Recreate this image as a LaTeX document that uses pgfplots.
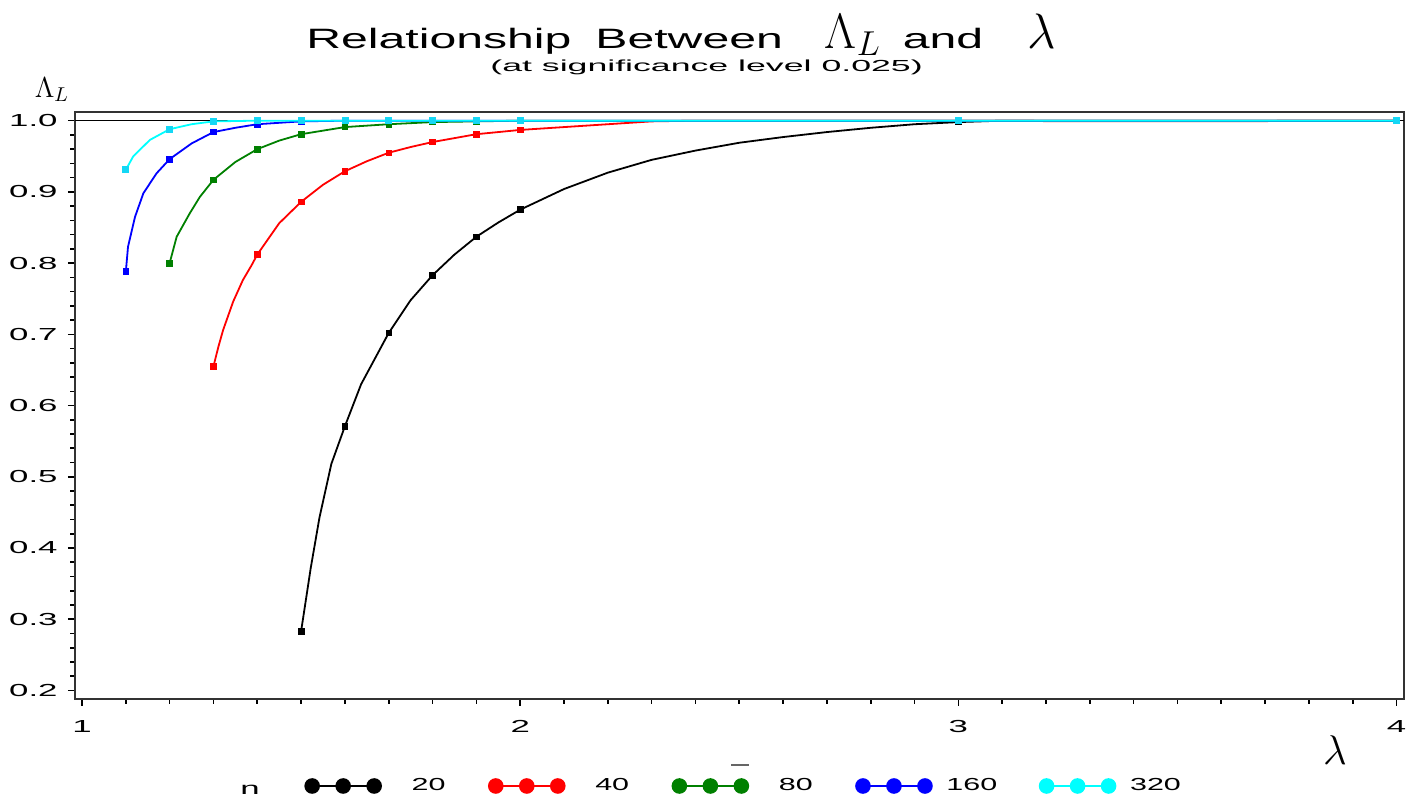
\documentclass[border=0pt]{standalone}
\usepackage{fontspec}
\setmainfont{Liberation Sans}
\usepackage{graphicx}
\usepackage{pgfplots}
\pgfplotsset{compat=1.18}
\newcommand\wide[1]{\scalebox{2}[1]{#1}}
\newcommand\lwide[1]{\scalebox{1.75}[1]{#1}}
\newcommand\tickfont{\fontsize{8.7}{10}\selectfont}
\definecolor{sasgreen}{RGB}{0,128,0}
\definecolor{sascyan}{RGB}{0,255,255}
\definecolor{sascyanmark}{RGB}{20,215,245}
\begin{document}
\begin{tikzpicture}
\useasboundingbox (0,0) rectangle (704.5pt,401.5pt);
\begin{axis}[
  at={(37.5pt,52pt)}, anchor=south west,
  scale only axis, width=664.5pt, height=293.5pt,
  xmin=0.984, xmax=4.017, ymin=0.188, ymax=1.0122,
  xtick={1,2,3,4}, xticklabels={\wide{1},\wide{2},\wide{3},\wide{4}},
  ytick={0.2,0.3,0.4,0.5,0.6,0.7,0.8,0.9,1.0},
  yticklabels={\wide{0.2},\wide{0.3},\wide{0.4},\wide{0.5},\wide{0.6},\wide{0.7},\wide{0.8},\wide{0.9},\wide{1.0}},
  minor x tick num=9, minor y tick num=4,
  tick align=outside, tick pos=left,
  major tick length=3.5pt, minor tick length=2.3pt,
  every tick/.style={black, line width=0.8pt},
  axis line style={black!80, line width=0.85pt},
  ticklabel style={font=\tickfont},
  yticklabel style={anchor=east, inner sep=0pt, xshift=-5pt},
  xticklabel style={anchor=north, inner sep=0pt, yshift=-7pt},
  legend image code/.code={\draw[#1, mark=*, mark size=3.5pt, line width=0.8pt] plot coordinates {(0pt,0pt) (15.5pt,0pt) (31pt,0pt)};},
  legend style={at={(0.1729,-0.1482)}, anchor=west, draw=none, fill=none, inner sep=0pt,
    legend columns=-1,
    /tikz/every odd column/.append style={column sep=15.25pt},
    /tikz/every even column/.append style={column sep=6.55pt},
    nodes={inner sep=0pt, font=\tickfont}},
]
% reference line at 1
\addplot[black, line width=0.5pt, forget plot] coordinates {(0.984,1) (4.017,1)};
% n = 20
\addplot[black, line width=0.9pt] coordinates {
 (1.5,0.283) (1.522,0.372) (1.542,0.443) (1.569,0.518) (1.6,0.571) (1.637,0.630)
 (1.7,0.702) (1.75,0.748) (1.8,0.783) (1.85,0.812) (1.9,0.837) (1.95,0.857) (2.0,0.875)
 (2.1,0.904) (2.2,0.927) (2.3,0.945) (2.4,0.958) (2.5,0.969) (2.6,0.977) (2.7,0.984)
 (2.8,0.990) (2.9,0.995) (3.0,0.998) (3.1,1.0) (4.0,1.0)};
\addlegendentry{\makebox[32pt][l]{\lwide{20}}}
\addplot[black, only marks, mark=square*, mark size=1.4pt, forget plot] coordinates {
 (1.5,0.283) (1.6,0.571) (1.7,0.702) (1.8,0.783) (1.9,0.837) (2.0,0.875) (3.0,0.998) (4.0,1.0)};
% n = 40
\addplot[red, line width=0.9pt] coordinates {
 (1.3,0.655) (1.311,0.682) (1.322,0.706) (1.345,0.746) (1.367,0.776) (1.387,0.797)
 (1.4,0.812) (1.45,0.856) (1.5,0.886) (1.55,0.910) (1.6,0.929) (1.65,0.943) (1.7,0.955)
 (1.75,0.963) (1.8,0.970) (1.9,0.981) (2.0,0.987) (2.1,0.991) (2.2,0.995) (2.3,0.999)
 (2.4,1.0) (3.15,1.0) (3.2,0.9993) (3.7,0.9993) (3.75,1.0) (4.0,1.0)};
\addlegendentry{\makebox[32pt][l]{\lwide{40}}}
\addplot[red, only marks, mark=square*, mark size=1.4pt, forget plot] coordinates {
 (1.3,0.655) (1.4,0.812) (1.5,0.886) (1.6,0.929) (1.7,0.955) (1.8,0.970) (1.9,0.981)
 (2.0,0.987) (3.0,1.0) (4.0,1.0)};
% n = 80
\addplot[sasgreen, line width=0.9pt] coordinates {
 (1.2,0.800) (1.216,0.837) (1.246,0.870) (1.269,0.893) (1.3,0.917) (1.35,0.942)
 (1.4,0.960) (1.45,0.972) (1.5,0.981) (1.6,0.991) (1.7,0.995) (1.8,0.998) (1.9,0.999)
 (2.0,1.0) (4.0,1.0)};
\addlegendentry{\makebox[32pt][l]{\lwide{80}}}
\addplot[sasgreen, only marks, mark=square*, mark size=1.4pt, forget plot] coordinates {
 (1.2,0.800) (1.3,0.917) (1.4,0.960) (1.5,0.981) (1.6,0.991) (1.7,0.995) (1.8,0.998)
 (1.9,0.999) (2.0,1.0) (3.0,1.0) (4.0,1.0)};
% n = 160
\addplot[blue, line width=0.9pt] coordinates {
 (1.1,0.788) (1.105,0.823) (1.121,0.865) (1.14,0.898) (1.17,0.926) (1.2,0.946)
 (1.25,0.968) (1.3,0.984) (1.35,0.990) (1.4,0.995) (1.5,0.999) (1.6,1.0) (4.0,1.0)};
\addlegendentry{\makebox[32pt][l]{\hspace{-8pt}\lwide{160}}}
\addplot[blue, only marks, mark=square*, mark size=1.4pt, forget plot] coordinates {
 (1.1,0.788) (1.2,0.946) (1.3,0.984) (1.4,0.995) (1.5,0.999) (1.6,1.0) (1.7,1.0)
 (1.8,1.0) (1.9,1.0) (2.0,1.0) (3.0,1.0) (4.0,1.0)};
% n = 320
\addplot[sascyan, line width=0.9pt] coordinates {
 (1.1,0.931) (1.117,0.950) (1.155,0.973) (1.2,0.988) (1.25,0.995) (1.3,0.999)
 (1.4,1.0) (4.0,1.0)};
\addlegendentry{\makebox[32pt][l]{\hspace{-8pt}\lwide{320}}}
\addplot[sascyanmark, only marks, mark=square*, mark size=1.5pt, forget plot] coordinates {
 (1.1,0.931) (1.2,0.988) (1.3,0.999) (1.4,1.0) (1.5,1.0) (1.6,1.0) (1.7,1.0)
 (1.8,1.0) (1.9,1.0) (2.0,1.0) (3.0,1.0) (4.0,1.0)};
\end{axis}
% titles and labels
\node[anchor=base west, inner sep=0pt] at (153pt,377.4pt)
  {\fontsize{14}{16}\selectfont\scalebox{1.72}[1]{Relationship\hspace{0.5em}Between}\hspace{21pt}{\fontsize{24}{26}\selectfont$\Lambda_L$}\hspace{11pt}\scalebox{1.72}[1]{and}\hspace{22pt}{\fontsize{26}{28}\selectfont$\lambda$}};
\node[anchor=base west, inner sep=0pt] at (245pt,365.6pt)
  {\fontsize{8}{9}\selectfont\scalebox{2.23}[1]{(at significance level 0.025)}};
\node[inner sep=0pt] at (26pt,356.5pt) {\fontsize{14.5}{16}\selectfont$\Lambda_L$};
\node[inner sep=0pt] at (667.5pt,26.5pt) {\fontsize{19.5}{21}\selectfont$\lambda$};
\node[anchor=base, inner sep=0pt] at (125pt,4pt) {\tickfont\wide{n}};
\node[inner sep=0pt, text=black!60] at (370pt,19pt) {\rule{9pt}{0.6pt}};
\end{tikzpicture}
\end{document}
